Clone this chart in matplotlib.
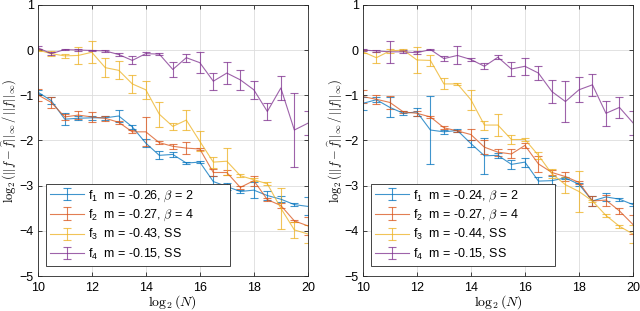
import numpy as np
import matplotlib.pyplot as plt

plt.rcParams['font.family'] = ['Liberation Sans', 'DejaVu Sans']
plt.rcParams['mathtext.fontset'] = 'cm'

log2N = [10, 10.5, 11, 11.5, 12, 12.5, 13, 13.5, 14, 14.5, 15,
         15.5, 16, 16.5, 17, 17.5, 18, 18.5, 19, 19.5, 20]

# left panel
f1_left = [-0.93, -1.12, -1.53, -1.51, -1.50, -1.50, -1.46, -1.70, -2.06, -2.33, -2.31,
           -2.50, -2.48, -2.91, -3.02, -3.13, -3.10, -3.22, -3.30, -3.42, -3.46]
f1_left_err = [0.04, 0.07, 0.13, 0.04, 0.04, 0.05, 0.13, 0.05, 0.09, 0.09, 0.06,
               0.03, 0.03, 0.12, 0.08, 0.03, 0.18, 0.10, 0.06, 0.03, 0.20]
f2_left = [-0.99, -1.16, -1.48, -1.44, -1.48, -1.51, -1.60, -1.81, -1.81, -2.05, -2.13,
           -2.17, -2.19, -2.71, -2.71, -3.04, -2.89, -3.31, -3.44, -3.78, -3.89]
f2_left_err = [0.13, 0.12, 0.06, 0.09, 0.11, 0.06, 0.03, 0.03, 0.32, 0.04, 0.06,
               0.13, 0.03, 0.08, 0.05, 0.03, 0.11, 0.04, 0.05, 0.03, 0.20]
f3_left = [0.00, -0.08, -0.13, -0.12, -0.05, -0.39, -0.45, -0.75, -0.88, -1.42, -1.69,
           -1.55, -2.02, -2.48, -2.46, -2.78, -2.87, -2.96, -3.50, -3.98, -4.07]
f3_left_err = [0.03, 0.05, 0.05, 0.19, 0.24, 0.21, 0.20, 0.20, 0.20, 0.28, 0.07,
               0.22, 0.22, 0.12, 0.30, 0.03, 0.03, 0.03, 0.45, 0.17, 0.19]
f4_left = [0.05, -0.08, 0.01, 0.00, -0.01, -0.02, -0.10, -0.23, -0.08, -0.09, -0.43,
           -0.17, -0.28, -0.69, -0.51, -0.66, -0.88, -1.36, -0.84, -1.77, -1.62]
f4_left_err = [0.03, 0.03, 0.02, 0.02, 0.02, 0.02, 0.04, 0.09, 0.04, 0.03, 0.16,
               0.09, 0.23, 0.19, 0.25, 0.22, 0.20, 0.19, 0.27, 0.82, 0.27]
labels_left = ['f$\\mathregular{_1}$  m = -0.26, $\\beta$ = 2',
               'f$\\mathregular{_2}$  m = -0.27, $\\beta$ = 4',
               'f$\\mathregular{_3}$  m = -0.43, SS',
               'f$\\mathregular{_4}$  m = -0.15, SS']

# right panel
f1_right = [-1.18, -1.10, -1.27, -1.40, -1.37, -1.77, -1.81, -1.78, -2.07, -2.34, -2.33,
            -2.53, -2.48, -2.90, -2.89, -2.83, -2.97, -3.34, -3.25, -3.30, -3.42]
f1_right_err = [0.14, 0.05, 0.22, 0.04, 0.08, 0.76, 0.04, 0.03, 0.07, 0.40, 0.05,
                0.10, 0.10, 0.08, 0.10, 0.03, 0.03, 0.10, 0.08, 0.03, 0.04]
f2_right = [-1.03, -1.09, -1.16, -1.37, -1.40, -1.48, -1.72, -1.79, -1.87, -2.15, -2.26,
            -2.30, -2.11, -2.52, -2.71, -2.80, -2.93, -3.34, -3.32, -3.56, -3.86]
f2_right_err = [0.14, 0.10, 0.14, 0.03, 0.05, 0.03, 0.03, 0.03, 0.12, 0.15, 0.08,
                0.10, 0.05, 0.17, 0.05, 0.10, 0.03, 0.10, 0.12, 0.07, 0.20]
f3_right = [-0.04, -0.17, -0.02, 0.00, -0.22, -0.23, -0.75, -0.75, -1.10, -1.66, -1.66,
            -1.98, -1.98, -2.33, -2.74, -2.98, -3.13, -3.34, -3.66, -3.90, -4.07]
f3_right_err = [0.03, 0.12, 0.05, 0.03, 0.28, 0.12, 0.12, 0.03, 0.22, 0.10, 0.25,
                0.10, 0.03, 0.08, 0.10, 0.18, 0.45, 0.03, 0.03, 0.03, 0.20]
f4_right = [0.00, -0.02, -0.04, -0.04, -0.06, 0.01, -0.19, -0.12, -0.21, -0.36, -0.16,
            -0.42, -0.36, -0.51, -0.92, -1.14, -0.88, -0.77, -1.40, -1.27, -1.61]
f4_right_err = [0.03, 0.02, 0.25, 0.03, 0.03, 0.02, 0.06, 0.20, 0.04, 0.07, 0.04,
                0.15, 0.19, 0.16, 0.25, 0.45, 0.28, 0.24, 0.27, 0.24, 0.27]
labels_right = ['f$\\mathregular{_1}$  m = -0.24, $\\beta$ = 2',
                'f$\\mathregular{_2}$  m = -0.27, $\\beta$ = 4',
                'f$\\mathregular{_3}$  m = -0.44, SS',
                'f$\\mathregular{_4}$  m = -0.15, SS']

colors = ['#0072BD', '#D95319', '#EDB120', '#7E2F8E']


def panel(ax, series, errs, labels):
    for y, e, c, lab in zip(series, errs, colors, labels):
        ax.errorbar(log2N, y, yerr=e, color=c, lw=0.8, elinewidth=0.8,
                    capsize=2.6, capthick=0.8, alpha=0.75, label=lab)
    ax.set_xlim(10, 20)
    ax.set_ylim(-5, 1)
    ax.set_xticks([10, 12, 14, 16, 18, 20])
    ax.set_yticks([-5, -4, -3, -2, -1, 0, 1])
    ax.grid(True, color='#dddddd', lw=0.6)
    ax.set_axisbelow(True)
    ax.tick_params(direction='in', length=3, top=True, right=True,
                   labelsize=9, width=0.6, color='#262626')
    ax.tick_params(axis='y', pad=3)
    ax.tick_params(axis='x', pad=4)
    for s in ax.spines.values():
        s.set_color('#262626')
        s.set_linewidth(0.6)
    ax.set_xlabel('$\\log_2(N)$', fontsize=10, labelpad=0)
    ax.set_ylabel('$\\log_2(||f - \\widehat{f}||_\\infty \\,/\\, ||f||_\\infty)$',
                  fontsize=9)
    ax.yaxis.set_label_coords(-0.068, 0.5)
    # wide box like the original legend, text kept left
    leg = ax.legend(loc='lower left', fontsize=9, handlelength=2.7,
                    fancybox=False, framealpha=1, edgecolor='#262626',
                    borderpad=0.35, labelspacing=0.33, handletextpad=0.35,
                    bbox_to_anchor=(0.03, 0.037, 0.68, 0.2), mode='expand',
                    borderaxespad=0)
    leg.get_frame().set_linewidth(0.6)


fig = plt.figure(figsize=(6.4, 3.11), dpi=100)
ax1 = fig.add_axes([0.059, 0.1125, 0.422, 0.872])
ax2 = fig.add_axes([0.567, 0.1125, 0.422, 0.872])

panel(ax1, [f1_left, f2_left, f3_left, f4_left],
      [f1_left_err, f2_left_err, f3_left_err, f4_left_err], labels_left)
panel(ax2, [f1_right, f2_right, f3_right, f4_right],
      [f1_right_err, f2_right_err, f3_right_err, f4_right_err], labels_right)

fig.savefig('out.png', dpi=100)
